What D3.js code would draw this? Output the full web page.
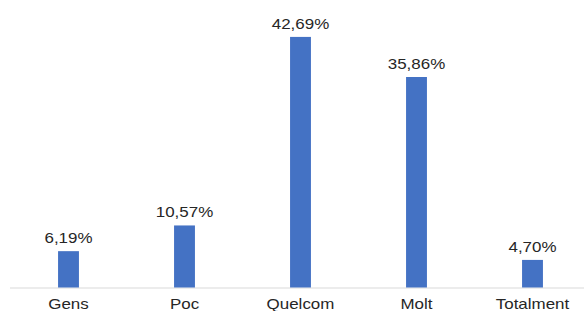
<!DOCTYPE html>
<html lang="ca">
<head>
<meta charset="UTF-8">
<title>Respostes</title>
<script src="https://d3js.org/d3.v7.min.js"></script>
<style>
  body { margin: 0; background: #fff; font-family: "Liberation Sans", Arial, sans-serif; }
  svg text { fill: #262626; }
</style>
</head>
<body>
<div id="chart"></div>
<script>
const categories = ["Gens", "Poc", "Quelcom", "Molt", "Totalment"];
const values = [6.19, 10.57, 42.69, 35.86, 4.70];
const labels = ["6,19%", "10,57%", "42,69%", "35,86%", "4,70%"];

const width = 584, height = 311;
const svg = d3.select("#chart").append("svg")
  .attr("width", width).attr("height", height);

const x = d3.scaleBand()
  .domain(categories)
  .range([10.5, 590.5])
  .paddingInner(0.82)
  .paddingOuter(0.41);

const y = d3.scaleLinear()
  .domain([0, 45])
  .range([287.5, 287.5 - 45 * 5.87]);

// stretched text, like the source image
const stretch = 1.13;

// baseline
svg.append("line")
  .attr("x1", 10).attr("x2", 584)
  .attr("y1", 288).attr("y2", 288)
  .attr("stroke", "#d9d9d9").attr("stroke-width", 1);

svg.selectAll("rect.bar")
  .data(values)
  .enter().append("rect")
  .attr("class", "bar")
  .attr("x", (d, i) => x(categories[i]))
  .attr("width", x.bandwidth())
  .attr("y", d => y(d))
  .attr("height", d => y(0) - y(d))
  .attr("fill", "#4472c4");

svg.selectAll("text.val")
  .data(values)
  .enter().append("text")
  .attr("class", "val")
  .attr("transform", (d, i) =>
    `translate(${x(categories[i]) + x.bandwidth() / 2},${y(d) - 8}) scale(${stretch},1)`)
  .attr("text-anchor", "middle")
  .attr("font-size", 15)
  .text((d, i) => labels[i]);

svg.selectAll("text.cat")
  .data(categories)
  .enter().append("text")
  .attr("class", "cat")
  .attr("transform", d =>
    `translate(${x(d) + x.bandwidth() / 2},309) scale(${stretch},1)`)
  .attr("text-anchor", "middle")
  .attr("font-size", 15)
  .text(d => d);
</script>
</body>
</html>
